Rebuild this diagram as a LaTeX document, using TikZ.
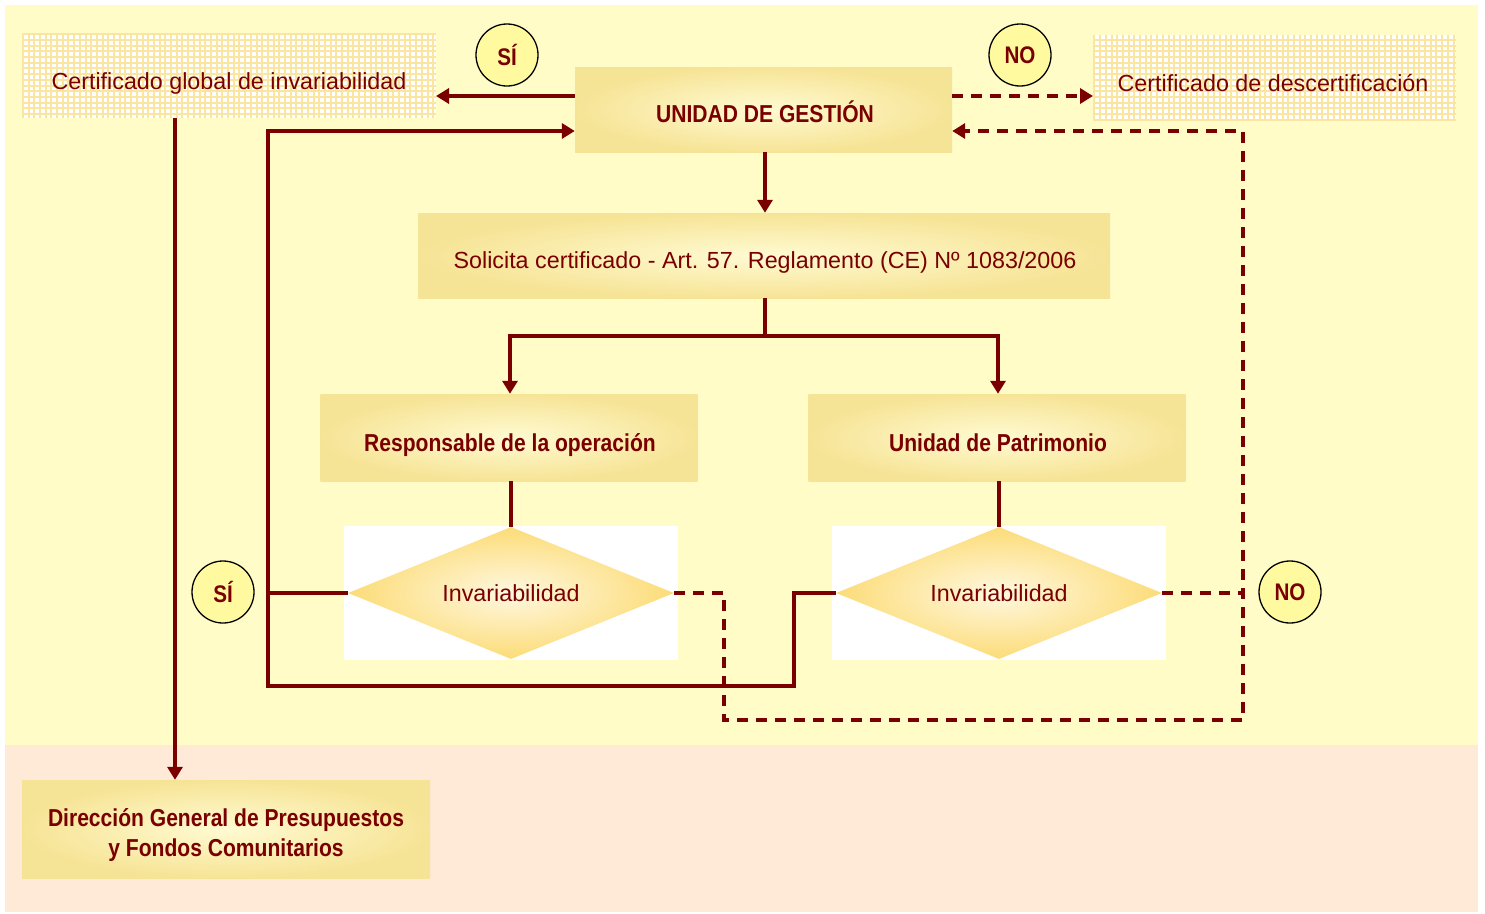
\documentclass[tikz,border=0pt]{standalone}
\usepackage{fontspec}
\setmainfont{Liberation Sans}
\newfontfamily\condfont[FakeStretch=0.86]{Liberation Sans}
\newfontfamily\regfont{Liberation Sans}
\usetikzlibrary{shapes.geometric,arrows.meta}
\definecolor{dred}{RGB}{122,0,0}
\definecolor{bgyel}{RGB}{255,252,200}
\definecolor{bgpink}{RGB}{255,233,215}
\definecolor{boxout}{RGB}{246,228,150}
\definecolor{boxin}{RGB}{255,250,210}
\definecolor{gridc}{RGB}{250,230,160}
\definecolor{circf}{RGB}{255,250,160}
\definecolor{diaout}{RGB}{252,220,120}
\definecolor{diain}{RGB}{255,248,225}
\begin{document}
\begin{tikzpicture}[x=1pt,y=-1pt,
  box/.style={rectangle,inner sep=0pt,shading=radial,inner color=boxin,outer color=boxout,text=dred,align=center},
  bigtxt/.style={font=\condfont\fontsize{24.5}{30}\selectfont\bfseries,text height=17.5pt,text depth=0pt},
  regtxt/.style={font=\regfont\fontsize{23.3}{28}\selectfont,text height=16.7pt,text depth=0pt},
  circ/.style={circle,draw=black,line width=1.3pt,fill=circf,minimum size=62pt,inner sep=0pt,text=dred,font=\condfont\fontsize{24}{28}\selectfont\bfseries},
  dia/.style={diamond,aspect=2.47,inner sep=0pt,minimum height=132pt,minimum width=326pt,shading=radial,inner color=diain,outer color=diaout,text=dred,font=\regfont\fontsize{23.3}{28}\selectfont,text height=16.7pt,text depth=0pt},
  conn/.style={draw=dred,line width=3.6pt},
  arr/.style={conn,-{Triangle[length=13pt,width=15pt]}},
  dsh/.style={dash pattern=on 11pt off 8pt}
]
\useasboundingbox (0,0) rectangle (1485,913);
\fill[white] (0,0) rectangle (1485,913);
\fill[bgyel] (5,5) rectangle (1478,745);
\fill[bgpink] (5,745) rectangle (1478,912);
% grid boxes
\fill[white] (22,33) rectangle (436,118);
\draw[gridc,line width=2pt,step=5.7pt] (22,33) grid (436,118);
\fill[white] (1093,35) rectangle (1456,120);
\draw[gridc,line width=2pt,step=5.7pt] (1093,35) grid (1456,120);
\node[text=dred,regtxt] (cg) at (229,81) {Certificado global de invariabilidad};
\node[text=dred,regtxt] (cd) at (1273,83) {Certificado de descertificación};
\coordinate (cgL) at (436,96);
\coordinate (cgB) at (175,118);
\coordinate (cdL) at (1093,96);
% circles
\node[circ] (si1) at (507,55) {SÍ};
\node[circ] (no1) at (1020,55) {NO};
\node[circ] (si2) at (223,592) {SÍ};
\node[circ] (no2) at (1290,592) {NO};
% main boxes
\node[box,minimum width=377pt,minimum height=85pt] (ug) at (763.5,109.5) {};
\node[text=dred,bigtxt] (ugt) at (765,114) {UNIDAD DE GESTIÓN};
\node[box,minimum width=692pt,minimum height=85pt] (sol) at (764,255.5) {};
\node[text=dred,regtxt] (solt) at (765,260) {Solicita certificado - Art. 57. Reglamento (CE) Nº 1083/2006};
\node[box,minimum width=377pt,minimum height=87pt] (resp) at (509,437.5) {};
\node[text=dred,bigtxt] (respt) at (510,443) {Responsable de la operación};
\node[box,minimum width=377pt,minimum height=87pt] (pat) at (997,437.5) {};
\node[text=dred,bigtxt] (patt) at (998,443) {Unidad de Patrimonio};
\node[box,minimum width=408pt,minimum height=98pt] (dg) at (226,829) {};
\node[text=dred,bigtxt] (dgt1) at (226,818) {Dirección General de Presupuestos};
\node[text=dred,bigtxt] (dgt2) at (226,848) {y Fondos Comunitarios};
% white backgrounds + diamonds
\fill[white] (344,526) rectangle (678,660);
\fill[white] (832,526) rectangle (1166,660);
\node[dia] (d1) at (511,593) {Invariabilidad};
\node[dia] (d2) at (999,593) {Invariabilidad};
% connectors
\draw[arr] (ug.west |- cgL) -- (cgL);
\draw[arr,dsh] (ug.east |- cdL) -- (cdL);
\draw[arr] (ugt.center |- ug.south) -- (ugt.center |- sol.north);
\coordinate (br) at (765,336);
\draw[conn] (br |- sol.south) -- (br);
\draw[arr] (br) -| (respt.center |- resp.north);
\draw[arr] (br) -| (patt.center |- pat.north);
\draw[conn] (d1.north |- resp.south) -- (d1.north);
\draw[conn] (d2.north |- pat.south) -- (d2.north);
\coordinate (ul) at (268,131);
\coordinate (ll) at (268,686);
\coordinate (lm) at (794,686);
\draw[conn] (d1.west) -- (d1.west -| ll);
\draw[arr,line join=miter] (d2.west) -| (lm) -- (ll) -- (ul) -- (ul -| ug.west);
\coordinate (ur) at (1243,131);
\coordinate (lr) at (1243,720);
\coordinate (lc) at (724,720);
\draw[arr,dsh] (d1.east) -| (lc) -- (lr) -- (ur) -- (ur -| ug.east);
\draw[conn,dsh] (d2.east) -- (d2.east -| lr);
\draw[arr] (cgB) -- (cgB |- dg.north);
\end{tikzpicture}
\end{document}
